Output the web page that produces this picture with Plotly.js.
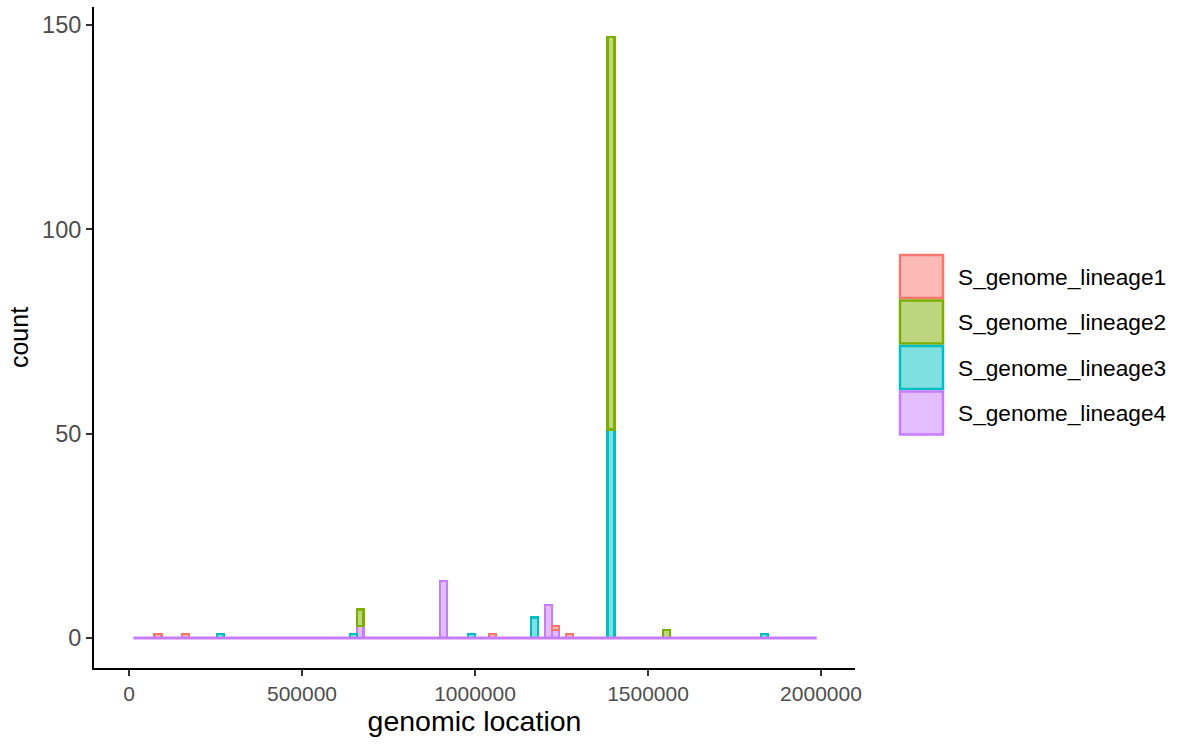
<!DOCTYPE html>
<html>
<head>
<meta charset="utf-8">
<script src="https://cdn.plot.ly/plotly-3.0.1.min.js"></script>
<style>
  html, body { margin: 0; padding: 0; background: #ffffff; }
  #chart { width: 1181px; height: 747px; }
</style>
</head>
<body>
<div id="chart"></div>
<script>
// Histogram of variant positions along the genome, stacked by lineage.
// Bins are fixed-width; each lineage lists the bins it occupies and the count in each.
const binStart = 13000;
const binWidth = 20150;
const binCount = 98;

const seriesNames = ['S_genome_lineage1', 'S_genome_lineage2', 'S_genome_lineage3', 'S_genome_lineage4'];
const seriesColors = ['#F8766D', '#7CAE00', '#00BFC4', '#C77CFF'];

const lineage1Bins = [3, 7, 51, 60, 62];
const lineage1Counts = [1, 1, 1, 1, 1];

const lineage2Bins = [32, 68, 76];
const lineage2Counts = [4, 96, 2];

const lineage3Bins = [12, 31, 48, 57, 68, 90];
const lineage3Counts = [1, 1, 1, 5, 51, 1];

const lineage4Bins = [32, 44, 59, 60];
const lineage4Counts = [3, 14, 8, 2];

const xTicks = [0, 500000, 1000000, 1500000, 2000000];
const yTicks = [0, 50, 100, 150];

const binsBySeries = [lineage1Bins, lineage2Bins, lineage3Bins, lineage4Bins];
const countsBySeries = [lineage1Counts, lineage2Counts, lineage3Counts, lineage4Counts];

function hexToRgba(hex, a) {
  const n = parseInt(hex.slice(1), 16);
  return `rgba(${(n >> 16) & 255},${(n >> 8) & 255},${n & 255},${a})`;
}

const binCentre = i => binStart + (i + 0.5) * binWidth;

// Lineage 4 sits at the bottom of each stack and lineage 1 on top.
const traces = [];
for (let s = seriesNames.length - 1; s >= 0; s--) {
  traces.push({
    type: 'bar',
    name: seriesNames[s],
    x: binsBySeries[s].map(binCentre),
    y: countsBySeries[s],
    width: binsBySeries[s].map(() => binWidth),
    marker: {
      color: hexToRgba(seriesColors[s], 0.5),
      line: { color: seriesColors[s], width: 2.2 }
    },
    showlegend: false,
    hoverinfo: 'x+y+name'
  });
}

// Empty bins still show their outline along zero.
traces.push({
  type: 'scatter',
  mode: 'lines',
  x: [binStart, binStart + binCount * binWidth],
  y: [0, 0],
  line: { color: seriesColors[3], width: 3 },
  showlegend: false,
  hoverinfo: 'skip'
});

const W = 1181, H = 747;
const margin = { l: 94, r: 326, t: 7, b: 79 };
const plotW = W - margin.l - margin.r;
const plotH = H - margin.t - margin.b;
const pxToPaperX = px => (px - margin.l) / plotW;
const pxToPaperY = py => (H - margin.b - py) / plotH;

// Legend drawn as large keys to the right of the panel.
const keyLeft = 900, keyRight = 943, keyTop = 255, keyStep = 45.5, keySize = 43;
const shapes = [];
const annotations = [];
seriesNames.forEach((name, i) => {
  const top = keyTop + i * keyStep;
  shapes.push({
    type: 'rect', xref: 'paper', yref: 'paper',
    x0: pxToPaperX(keyLeft), x1: pxToPaperX(keyRight),
    y0: pxToPaperY(top + keySize), y1: pxToPaperY(top),
    fillcolor: hexToRgba(seriesColors[i], 0.5),
    line: { color: seriesColors[i], width: 2.5 },
    layer: 'above'
  });
  annotations.push({
    xref: 'paper', yref: 'paper',
    x: pxToPaperX(956), y: pxToPaperY(top + keySize / 2),
    xanchor: 'left', yanchor: 'middle',
    text: name, showarrow: false,
    font: { family: 'Liberation Sans, Arial, sans-serif', size: 22.7, color: '#000000' }
  });
});

const layout = {
  width: W, height: H,
  margin: margin,
  paper_bgcolor: '#ffffff',
  plot_bgcolor: '#ffffff',
  barmode: 'stack',
  bargap: 0,
  showlegend: false,
  xaxis: {
    range: [-101200, 2098300],
    tickvals: xTicks,
    ticktext: xTicks.map(String),
    ticks: 'outside', ticklen: 6, tickwidth: 1.8, tickcolor: '#333333',
    showline: true, linecolor: '#000000', linewidth: 2,
    showgrid: false, zeroline: false,
    tickfont: { family: 'Liberation Sans, Arial, sans-serif', size: 21, color: '#4D4D4D' },
    title: {
      text: 'genomic location',
      font: { family: 'Liberation Sans, Arial, sans-serif', size: 28.5, color: '#000000' },
      standoff: 4
    }
  },
  yaxis: {
    range: [-7.34, 154.4],
    tickvals: yTicks,
    ticktext: yTicks.map(String),
    ticks: 'outside', ticklen: 6, tickwidth: 1.8, tickcolor: '#333333',
    showline: true, linecolor: '#000000', linewidth: 2,
    showgrid: false, zeroline: false,
    tickfont: { family: 'Liberation Sans, Arial, sans-serif', size: 23.5, color: '#4D4D4D' },
    title: {
      text: 'count',
      font: { family: 'Liberation Sans, Arial, sans-serif', size: 25, color: '#000000' },
      standoff: 6
    }
  },
  shapes: shapes,
  annotations: annotations
};

Plotly.newPlot('chart', traces, layout, { displayModeBar: false, staticPlot: true });
</script>
</body>
</html>
